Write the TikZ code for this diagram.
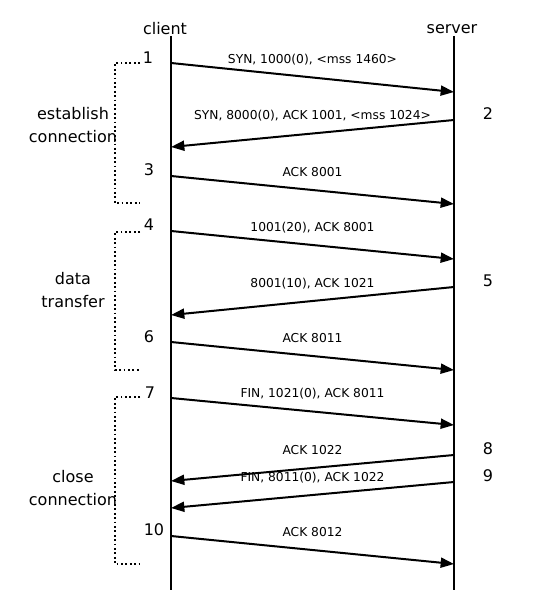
\documentclass[tikz,border=0pt]{standalone}
\usepackage{fontspec}
\setmainfont{DejaVu Sans}
\usetikzlibrary{arrows.meta,positioning}

\begin{document}
\begin{tikzpicture}[x=0.75pt,y=-0.75pt,
    lifeline/.style={line width=1.5pt},
    msg/.style={line width=1.5pt,-{Triangle[length=10pt,width=7.5pt]}},
    lbl/.style={midway,above=4.5pt,font=\fontsize{9.2}{10}\selectfont,
                text height=6.9pt,text depth=1.8pt},
    big/.style={font=\fontsize{12}{17}\selectfont,align=center},
    phase/.style={dotted,line width=1.3pt}]

  \useasboundingbox (0,0) rectangle (534,609);

  % lifelines
  \node[big] (client) at (165,29) {client};
  \node[big] (server) at (452,29) {server};
  \coordinate (ctop) at (171,36);  \coordinate (cbot) at (171,590);
  \coordinate (stop) at (454,36);  \coordinate (sbot) at (454,590);
  \draw[lifeline] (ctop) -- (cbot);
  \draw[lifeline] (stop) -- (sbot);

  % message ends
  \coordinate (c1) at (171,63);   \coordinate (s1) at (454,92);
  \coordinate (s2) at (454,120);  \coordinate (c2) at (171,147);
  \coordinate (c3) at (171,176);  \coordinate (s3) at (454,204);
  \coordinate (c4) at (171,231);  \coordinate (s4) at (454,259);
  \coordinate (s5) at (454,287);  \coordinate (c5) at (171,315);
  \coordinate (c6) at (171,342);  \coordinate (s6) at (454,370);
  \coordinate (c7) at (171,398);  \coordinate (s7) at (454,425);
  \coordinate (s8) at (454,455);  \coordinate (c8) at (171,481);
  \coordinate (s9) at (454,482);  \coordinate (c9) at (171,508);
  \coordinate (c10) at (171,536); \coordinate (s10) at (454,564);

  \path[msg] (c1)  edge node[lbl] {SYN, 1000(0), <mss 1460>} (s1)
             (s2)  edge node[lbl] {SYN, 8000(0), ACK 1001, <mss 1024>} (c2)
             (c3)  edge node[lbl] {ACK 8001} (s3)
             (c4)  edge node[lbl] {1001(20), ACK 8001} (s4)
             (s5)  edge node[lbl] {8001(10), ACK 1021} (c5)
             (c6)  edge node[lbl] {ACK 8011} (s6)
             (c7)  edge node[lbl] {FIN, 1021(0), ACK 8011} (s7)
             (s8)  edge node[lbl] {ACK 1022} (c8)
             (s9)  edge node[lbl] {FIN, 8011(0), ACK 1022} (c9)
             (c10) edge node[lbl] {ACK 8012} (s10);

  % step numbers
  \node[big] (n1)  at (148,58)  {1};
  \node[big] (n2)  at (488,114) {2};
  \node[big] (n3)  at (149,170) {3};
  \node[big] (n4)  at (149,225) {4};
  \node[big] (n5)  at (488,281) {5};
  \node[big] (n6)  at (149,337) {6};
  \node[big] (n7)  at (150,393) {7};
  \node[big] (n8)  at (488,449) {8};
  \node[big] (n9)  at (488,476) {9};
  \node[big] (n10) at (154,530) {10};

  % phases
  \draw[phase] (140,63) -- (115,63) -- (115,203) -- (140,203);
  \draw[phase] (140,232) -- (115,232) -- (115,370) -- (140,370);
  \draw[phase] (140,397) -- (115,397) -- (115,564) -- (140,564);
  \node[big] (estab) at (73,125) {establish\\connection};
  \node[big] (data)  at (73,290) {data\\transfer};
  \node[big] (close) at (73,488) {close\\connection};
\end{tikzpicture}
\end{document}
